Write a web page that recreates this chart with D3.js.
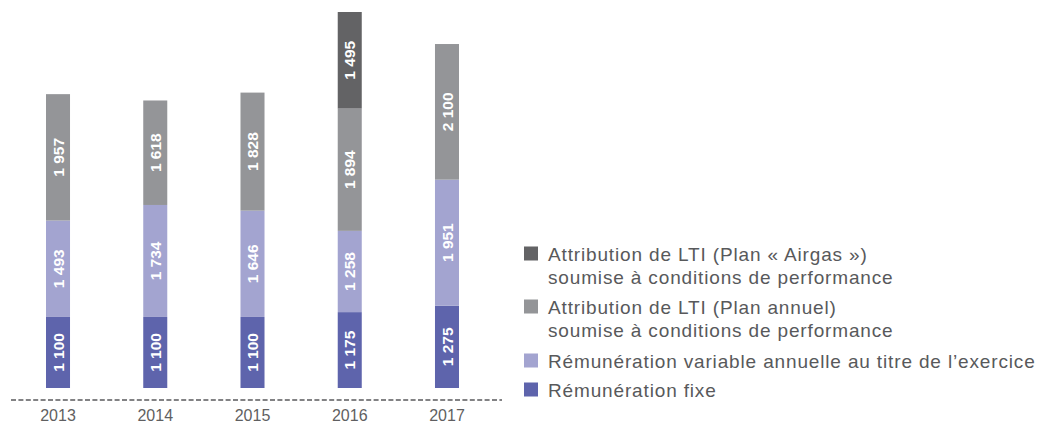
<!DOCTYPE html>
<html>
<head>
<meta charset="utf-8">
<script src="https://cdn.jsdelivr.net/npm/d3@7"></script>
<style>
  html, body { margin: 0; padding: 0; background: #fff; }
  svg { display: block; font-family: "Liberation Sans", Arial, Helvetica, sans-serif; }
</style>
</head>
<body>
<svg id="chart" width="1047" height="423"></svg>
<script>
// Years shown on the axis
const years = ["2013", "2014", "2015", "2016", "2017"];

// Stacked components (bottom to top), in thousands of euros
const fixe      = [1100, 1100, 1100, 1175, 1275];
const variable  = [1493, 1734, 1646, 1258, 1951];
const ltiAnnuel = [1957, 1618, 1828, 1894, 2100];
const ltiAirgas = [0, 0, 0, 1495, 0];

const seriesKeys = ["fixe", "variable", "ltiAnnuel", "ltiAirgas"];
const seriesColors = ["#5e64ac", "#a3a4d0", "#949598", "#636365"];

// Legend entries, listed top to bottom
const legendLabels = [
  ["Attribution de LTI (Plan « Airgas »)", "soumise à conditions de performance"],
  ["Attribution de LTI (Plan annuel)", "soumise à conditions de performance"],
  ["Rémunération variable annuelle au titre de l’exercice"],
  ["Rémunération fixe"]
];
const legendColors = ["#636365", "#949598", "#a3a4d0", "#5e64ac"];

const rows = years.map((y, i) => ({
  year: y,
  fixe: fixe[i],
  variable: variable[i],
  ltiAnnuel: ltiAnnuel[i],
  ltiAirgas: ltiAirgas[i]
}));

const svg = d3.select("#chart");

const baseY = 388;
const maxTotal = d3.max(rows, r => seriesKeys.reduce((s, k) => s + r[k], 0));

const x = d3.scaleBand()
  .domain(years)
  .range([46, 459])
  .paddingInner(0.753)
  .paddingOuter(0);

const y = d3.scaleLinear()
  .domain([0, maxTotal])
  .range([baseY, 12]);

const stacked = d3.stack().keys(seriesKeys)(rows);

const fmt = v => {
  const s = String(v);
  return s.length > 3 ? s.slice(0, s.length - 3) + " " + s.slice(-3) : s;
};

// Bars
const layers = svg.append("g").selectAll("g")
  .data(stacked)
  .join("g")
  .attr("fill", (d, i) => seriesColors[i]);

layers.selectAll("rect")
  .data(d => d.filter(p => p[1] - p[0] > 0))
  .join("rect")
  .attr("x", p => x(p.data.year))
  .attr("width", x.bandwidth())
  .attr("y", p => y(p[1]))
  .attr("height", p => y(p[0]) - y(p[1]));

// Value labels inside each segment, rotated
layers.selectAll("text")
  .data(d => d.filter(p => p[1] - p[0] > 0).map(p => ({ p, key: d.key })))
  .join("text")
  .attr("transform", o => {
    const cx = x(o.p.data.year) + x.bandwidth() / 2;
    const cy = (y(o.p[0]) + y(o.p[1])) / 2;
    return `translate(${cx},${cy}) rotate(-90)`;
  })
  .attr("text-anchor", "middle")
  .attr("dy", "0.36em")
  .attr("fill", "#fff")
  .attr("font-size", 15.5)
  .attr("font-weight", "bold")
  .text(o => fmt(o.p.data[o.key]));

// Dashed baseline
svg.append("line")
  .attr("x1", 11).attr("x2", 502)
  .attr("y1", 400).attr("y2", 400)
  .attr("stroke", "#5a5a5c")
  .attr("stroke-width", 1.6)
  .attr("stroke-dasharray", "5,2.4");

// Year labels
const xAxis = svg.append("g")
  .attr("transform", "translate(0,402)")
  .call(d3.axisBottom(x).tickSize(0).tickPadding(8));
xAxis.select(".domain").remove();
xAxis.selectAll("text")
  .attr("font-family", "'Liberation Sans', Arial, sans-serif")
  .attr("font-size", 16)
  .attr("fill", "#5f5f61");

// Legend
const legendBaselines = [261, 314, 368, 397];
const legend = svg.append("g");
legendLabels.forEach((lines, i) => {
  const b = legendBaselines[i];
  legend.append("rect")
    .attr("x", 524).attr("y", b - 14.5)
    .attr("width", 14).attr("height", 14)
    .attr("fill", legendColors[i]);
  const t = legend.append("text")
    .attr("x", 548).attr("y", b)
    .attr("font-size", 19)
    .attr("letter-spacing", 0.85)
    .attr("fill", "#58595b");
  lines.forEach((ln, j) => {
    t.append("tspan")
      .attr("x", 548)
      .attr("dy", j === 0 ? 0 : 23)
      .text(ln);
  });
});
</script>
</body>
</html>
